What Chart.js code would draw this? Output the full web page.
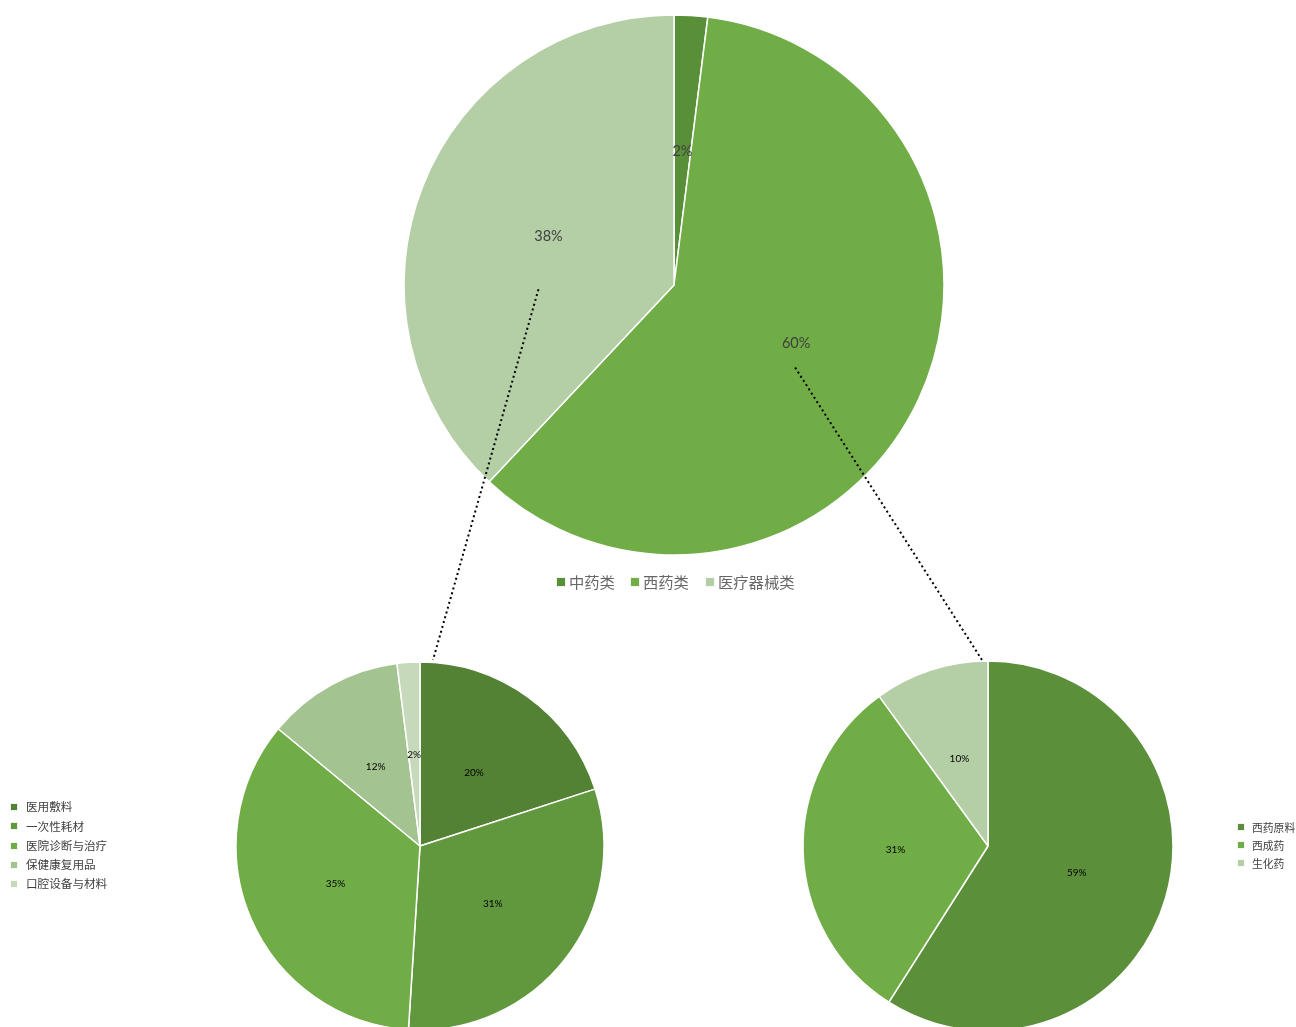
<!DOCTYPE html>
<html>
<head>
<meta charset="utf-8">
<script src="https://cdn.jsdelivr.net/npm/chart.js@4/dist/chart.umd.min.js"></script>
<style>
  html, body { margin:0; padding:0; width:1296px; height:1027px; overflow:hidden; background:#fff; }
  .cv { position:absolute; }
  .legend { position:absolute; font-family:"Noto Sans CJK SC", sans-serif; }
  .legend .item { position:absolute; white-space:nowrap; display:flex; align-items:center; }
  .legend .box { display:inline-block; box-sizing:border-box; border:1px solid rgba(255,255,255,0.9); }
</style>
</head>
<body>
<canvas id="top" class="cv" width="550" height="550" style="left:399px;top:10px;width:550px;height:550px"></canvas>
<canvas id="left" class="cv" width="380" height="380" style="left:230px;top:656px;width:380px;height:380px"></canvas>
<canvas id="right" class="cv" width="380" height="380" style="left:798px;top:656px;width:380px;height:380px"></canvas>
<canvas id="overlay" class="cv" width="1296" height="1027" style="left:0;top:0;width:1296px;height:1027px;pointer-events:none"></canvas>
<div id="legTop" class="legend"></div>
<div id="legLeft" class="legend"></div>
<div id="legRight" class="legend"></div>
<script>
// ---- data ----
const topLabels = ['中药类', '西药类', '医疗器械类'];
const topValues = [2, 60, 38];
const topColors = ['#5A8F3A', '#70AD47', '#B4CEA5'];

const leftLabels = ['医用敷料', '一次性耗材', '医院诊断与治疗', '保健康复用品', '口腔设备与材料'];
const leftValues = [20, 31, 35, 12, 2];
const leftColors = ['#548235', '#62983D', '#70AD47', '#A3C491', '#C6DABB'];

const rightLabels = ['西药原料', '西成药', '生化药'];
const rightValues = [59, 31, 10];
const rightColors = ['#5B8F3A', '#70AD47', '#B4CEA5'];

// ---- label plugin ----
const pctLabels = {
  id: 'pctLabels',
  afterDatasetsDraw(chart, args, opts) {
    const ctx = chart.ctx;
    const meta = chart.getDatasetMeta(0);
    const data = chart.data.datasets[0].data;
    const total = data.reduce((a, b) => a + b, 0);
    ctx.save();
    ctx.font = opts.font;
    ctx.fillStyle = opts.color;
    ctx.textAlign = 'center';
    ctx.textBaseline = 'middle';
    meta.data.forEach((arc, i) => {
      const p = arc.getCenterPoint();
      ctx.fillText(Math.round(data[i] / total * 100) + '%', p.x, p.y + 1);
    });
    ctx.restore();
  }
};

function makePie(id, labels, values, colors, radius, font, color) {
  return new Chart(document.getElementById(id), {
    type: 'pie',
    data: { labels, datasets: [{ data: values, backgroundColor: colors, borderColor: '#ffffff', borderWidth: 1.5 }] },
    options: {
      responsive: false,
      animation: false,
      radius: radius,
      layout: { padding: 0 },
      plugins: {
        legend: { display: false },
        tooltip: { enabled: false },
        pctLabels: { font, color }
      }
    },
    plugins: [pctLabels]
  });
}

const cTop = makePie('top', topLabels, topValues, topColors, 270, '14.5px "Lato", "Liberation Sans", sans-serif', '#404040');
const cLeft = makePie('left', leftLabels, leftValues, leftColors, 184, '10px "Lato", "Liberation Sans", sans-serif', '#000000');
const cRight = makePie('right', rightLabels, rightValues, rightColors, 185, '10px "Lato", "Liberation Sans", sans-serif', '#000000');

// ---- legends ----
function legend(elId, labels, colors, opt) {
  const el = document.getElementById(elId);
  labels.forEach((lab, i) => {
    const it = document.createElement('div');
    it.className = 'item';
    const x = opt.horizontal ? opt.xs[i] : opt.x;
    const y = opt.horizontal ? opt.y : opt.y + i * opt.step;
    it.style.left = x + 'px';
    it.style.top = (y - opt.size / 2 - 4) + 'px';
    it.style.fontSize = opt.size + 'px';
    it.style.color = opt.color;
    it.style.lineHeight = (opt.size + 8) + 'px';
    const b = document.createElement('span');
    b.className = 'box';
    b.style.width = opt.box + 'px';
    b.style.height = opt.box + 'px';
    b.style.background = colors[i];
    b.style.marginRight = opt.gap + 'px';
    it.appendChild(b);
    it.appendChild(document.createTextNode(lab));
    el.appendChild(it);
  });
}
legend('legTop', topLabels, topColors, { horizontal: true, xs: [556, 630, 705], y: 582, size: 15.3, box: 10, gap: 3, color: '#666666' });
legend('legLeft', leftLabels, leftColors, { x: 10, y: 807, step: 19.3, size: 11.6, box: 8, gap: 8, color: '#404040' });
legend('legRight', rightLabels, rightColors, { x: 1237, y: 827, step: 18, size: 10.8, box: 8, gap: 7, color: '#404040' });

// ---- dotted connectors ----
function connect(ctx, fromChart, idx, fromOff, toChart, toOff) {
  const fc = fromChart.canvas.getBoundingClientRect();
  const tc = toChart.canvas.getBoundingClientRect();
  const p = fromChart.getDatasetMeta(0).data[idx].getCenterPoint();
  const arc0 = toChart.getDatasetMeta(0).data[0];
  const sx = fc.left + p.x + fromOff[0], sy = fc.top + p.y + fromOff[1];
  const ex = tc.left + arc0.x + toOff[0], ey = tc.top + arc0.y - arc0.outerRadius + toOff[1];
  ctx.beginPath();
  ctx.moveTo(sx, sy);
  ctx.lineTo(ex, ey);
  ctx.stroke();
}
const oc = document.getElementById('overlay').getContext('2d');
oc.save();
oc.strokeStyle = '#000000';
oc.lineWidth = 2;
oc.setLineDash([2, 3]);
connect(oc, cTop, 2, [-10, 54], cLeft, [13, -2]);
connect(oc, cTop, 1, [-1, 25], cRight, [-6, -1]);
oc.restore();
</script>
</body>
</html>
